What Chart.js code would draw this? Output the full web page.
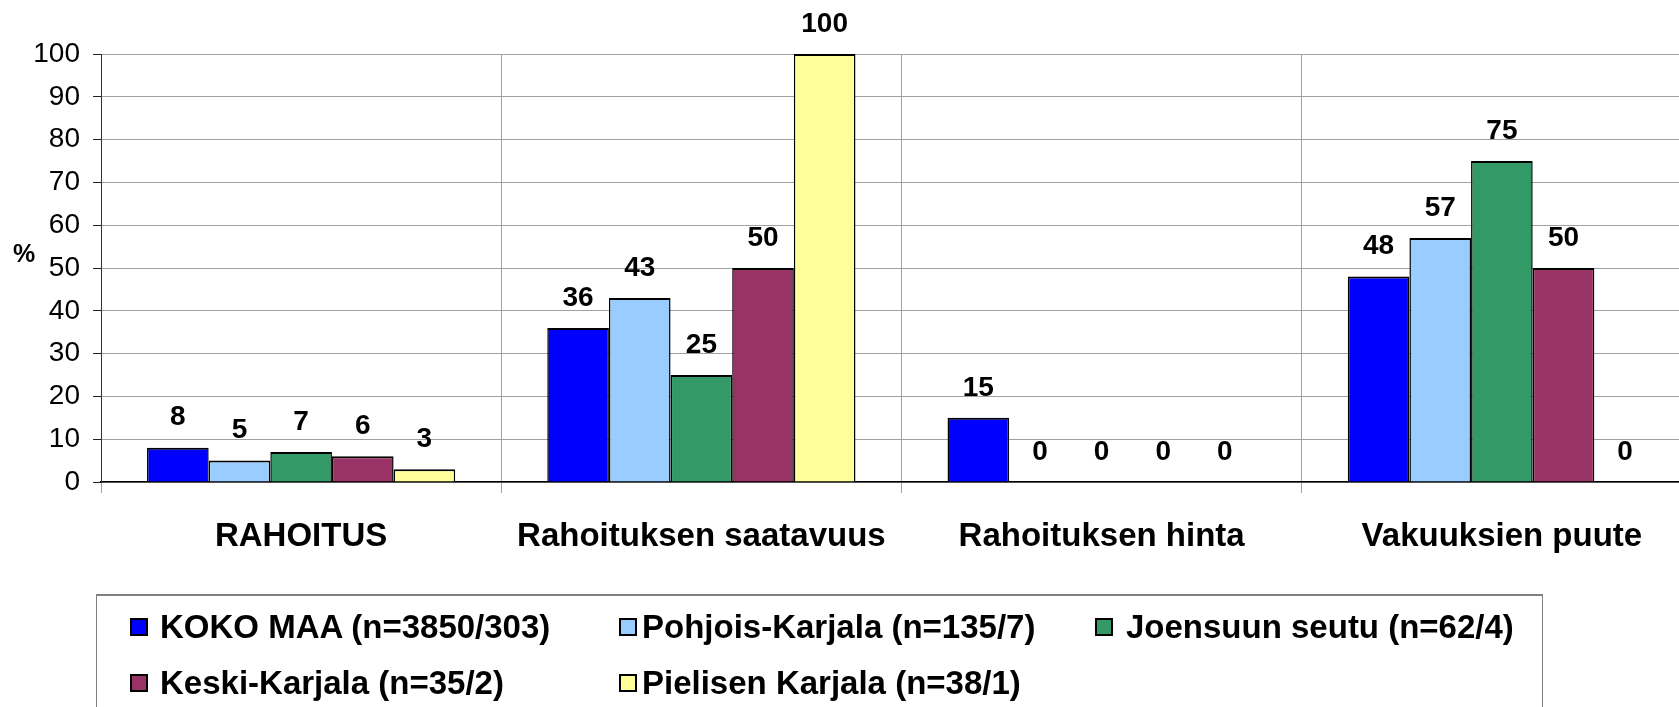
<!DOCTYPE html>
<html>
<head>
<meta charset="utf-8">
<title>Rahoitus</title>
<script src="https://cdn.jsdelivr.net/npm/chart.js@4.4.0/dist/chart.umd.min.js"></script>
<style>
  html, body { margin: 0; padding: 0; background: #fff; overflow: hidden; }
  #wrap { position: relative; width: 1679px; height: 707px; overflow: hidden; }
  #chart { position: absolute; left: 0; top: 0; }
  #legend {
    position: absolute; left: 96px; top: 594px; width: 1445px; height: 200px;
    border: 1px solid #808080; border-top: 2px solid #808080;
    font: bold 33px "Liberation Sans", Arial, sans-serif; color: #000;
  }
  .box { position: absolute; width: 14px; height: 14px; border: 2px solid #000; }
  .txt { position: absolute; white-space: nowrap; line-height: 40px; }
</style>
</head>
<body>
<div id="wrap">
  <canvas id="chart" width="1703" height="707"></canvas>
  <div id="legend"></div>
</div>
<script>
// categories and series values
const categories = ['RAHOITUS', 'Rahoituksen saatavuus', 'Rahoituksen hinta', 'Vakuuksien puute'];
const seriesNames = [
  'KOKO MAA (n=3850/303)',
  'Pohjois-Karjala (n=135/7)',
  'Joensuun seutu (n=62/4)',
  'Keski-Karjala (n=35/2)',
  'Pielisen Karjala (n=38/1)'
];
const kokoMaa = [8, 36, 15, 48];
const pohjoisKarjala = [5, 43, 0, 57];
const joensuunSeutu = [7, 25, 0, 75];
const keskiKarjala = [6, 50, 0, 50];
const pielisenKarjala = [3, 100, 0, 0];
const yMin = 0;
const yMax = 100;
const yStep = 10;

const seriesValues = [kokoMaa, pohjoisKarjala, joensuunSeutu, keskiKarjala, pielisenKarjala];
const seriesColors = ['#0000ff', '#99ccff', '#339966', '#993366', '#ffff99'];

const FONT = '"Liberation Sans", Arial, sans-serif';

// numbers above each bar
const valueLabels = {
  id: 'valueLabels',
  afterDatasetsDraw(chart) {
    const ctx = chart.ctx;
    ctx.save();
    ctx.font = 'bold 28px ' + FONT;
    ctx.fillStyle = '#000';
    ctx.textAlign = 'center';
    ctx.textBaseline = 'middle';
    chart.data.datasets.forEach((ds, i) => {
      chart.getDatasetMeta(i).data.forEach((bar, j) => {
        ctx.fillText(String(ds.data[j]), bar.x, bar.y - 30);
      });
    });
    ctx.restore();
  }
};

// the "%" axis caption, written level
const percentSign = {
  id: 'percentSign',
  afterDraw(chart) {
    const ctx = chart.ctx;
    const area = chart.chartArea;
    ctx.save();
    ctx.font = 'bold 25px ' + FONT;
    ctx.fillStyle = '#000';
    ctx.textAlign = 'center';
    ctx.textBaseline = 'middle';
    ctx.fillText('%', 24, (area.top + area.bottom) / 2 - 13);
    ctx.restore();
  }
};

new Chart(document.getElementById('chart'), {
  type: 'bar',
  data: {
    labels: categories,
    datasets: seriesNames.map((name, i) => ({
      label: name,
      data: seriesValues[i],
      backgroundColor: seriesColors[i],
      borderColor: '#000',
      borderWidth: { top: 2, left: 1.5, right: 1.5, bottom: 0 },
      categoryPercentage: 0.77,
      barPercentage: 1
    }))
  },
  options: {
    responsive: false,
    animation: false,
    layout: { padding: { top: 54, right: 1, left: 0, bottom: 0 } },
    plugins: {
      legend: { display: false },
      tooltip: { enabled: false }
    },
    scales: {
      x: {
        offset: true,
        grid: { color: '#a0a0a0', tickColor: '#a0a0a0', tickLength: 11, offset: true },
        border: { color: '#000', width: 1.5 },
        ticks: {
          color: '#000',
          font: { family: FONT, size: 33, weight: 'bold' },
          padding: 24,
          maxRotation: 0,
          autoSkip: false
        },
        afterFit(scale) { scale.height = 707 - 482; }
      },
      y: {
        min: yMin,
        max: yMax,
        ticks: { stepSize: yStep, color: '#000', font: { family: FONT, size: 28 }, padding: 13 },
        grid: { color: '#a0a0a0', tickColor: '#222', tickLength: 8 },
        border: { color: '#333', width: 1 },
        afterFit(scale) { scale.width = 101; }
      }
    }
  },
  plugins: [valueLabels, percentSign]
});

// legend laid out in columns like the original (positions inside the frame)
const legend = document.getElementById('legend');
const boxX = [33, 522, 998];
const textX = [63, 545, 1029];
const rowY = [31, 87];
seriesNames.forEach((name, i) => {
  const col = i % 3;
  const y = rowY[Math.floor(i / 3)];
  const box = document.createElement('div');
  box.className = 'box';
  box.style.background = seriesColors[i];
  box.style.left = boxX[col] + 'px';
  box.style.top = (y - 9) + 'px';
  legend.appendChild(box);
  const txt = document.createElement('div');
  txt.className = 'txt';
  txt.textContent = name;
  txt.style.left = textX[col] + 'px';
  txt.style.top = (y - 20) + 'px';
  legend.appendChild(txt);
});
</script>
</body>
</html>
